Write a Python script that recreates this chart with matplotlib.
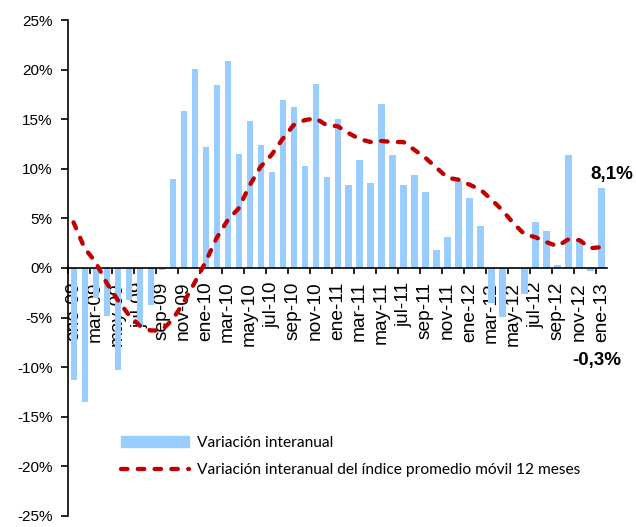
import numpy as np
import matplotlib
matplotlib.use("Agg")
import matplotlib.pyplot as plt
from matplotlib.patches import Patch
from matplotlib.lines import Line2D

# meses ene-09 .. ene-13
meses = ["ene", "feb", "mar", "abr", "may", "jun", "jul", "ago", "sep", "oct", "nov", "dic"]
etiquetas = [f"{meses[i % 12]}-{9 + i // 12:02d}" for i in range(49)]

# variacion interanual mensual (%)
var_interanual = [
    -11.3, -13.5, -3.0, -4.8, -10.3, -3.2, -6.0, -3.7, -0.2, 9.0, 15.8, 20.1,
    12.2, 18.4, 20.9, 11.5, 14.8, 12.4, 9.7, 16.9, 16.2, 10.3, 18.6, 9.2,
    15.0, 8.4, 10.9, 8.6, 16.5, 11.4, 8.4, 9.4, 7.7, 1.8, 3.1, 8.8,
    7.1, 4.2, -3.5, -4.9, -0.1, -2.6, 4.6, 3.7, 0.35, 11.4, 2.9, -0.3,
    8.1,
]

# variacion interanual del promedio movil 12 meses (%)
var_movil = [
    4.6, 2.0, 0.6, -1.5, -3.2, -4.7, -5.8, -6.3, -6.3, -5.2, -3.5, -1.5,
    0.6, 3.0, 4.8, 6.0, 8.3, 10.2, 11.4, 13.0, 14.4, 14.9, 15.1, 14.4,
    14.3, 13.6, 13.0, 12.7, 12.8, 12.7, 12.7, 11.9, 11.1, 10.1, 9.1, 8.9,
    8.4, 7.9, 6.9, 5.8, 4.5, 3.4, 3.1, 2.6, 2.2, 2.9, 2.8, 2.0,
    2.1,
]

x = np.arange(len(etiquetas))
rojo = "#C00000"
azul = "#99CCFF"
guiones = (0, (1.5, 2.4))

fig = plt.figure(figsize=(6.36, 5.27), dpi=100)
ax = fig.add_axes([0.107, 0.021, 0.8474, 0.941])

ax.bar(x, var_interanual, width=0.55, color=azul, zorder=2)
ax.plot(x, var_movil, color=rojo, lw=3.1, ls=guiones,
        dash_capstyle="round", zorder=3)

ax.set_xlim(-0.5, len(x) - 0.5)
ax.set_ylim(-25, 25)

# eje y
yt = np.arange(-25, 26, 5)
ax.set_yticks(yt)
ax.set_yticklabels([f"{v}%" for v in yt], fontfamily="Liberation Sans", fontsize=11)
ax.tick_params(axis="y", direction="out", length=5, width=1.2, pad=6)

# eje x sobre el cero
ax.spines["bottom"].set_position(("data", 0))
ax.spines["bottom"].set_linewidth(1.2)
ax.spines["left"].set_linewidth(1.2)
ax.spines["top"].set_visible(False)
ax.spines["right"].set_visible(False)
ax.set_xticks(x[::2])
ax.set_xticklabels(etiquetas[::2], rotation=90, fontfamily="Liberation Sans",
                   fontsize=13.8)
ax.tick_params(axis="x", length=0, pad=10)
ax.set_xticks(np.arange(-0.5, len(x), 2), minor=True)
ax.tick_params(axis="x", which="minor", direction="out", length=4, width=1.2)

# valores destacados
ax.text(48.95, 9.4, "8,1%", ha="center", va="center", fontsize=13.5,
        fontweight="bold", fontfamily="Liberation Sans")
ax.text(47.55, -9.3, "-0,3%", ha="center", va="center", fontsize=13.5,
        fontweight="bold", fontfamily="Liberation Sans")

handles = [Patch(color=azul),
           Line2D([0], [0], color=rojo, lw=3.1, ls=guiones,
                  dash_capstyle="round")]
ax.legend(handles, ["Variación interanual",
                    "Variación interanual del índice promedio móvil 12 meses"],
          loc="upper left", bbox_to_anchor=(0.072, 0.19), frameon=False,
          prop={"family": "Lato", "size": 11.2}, handlelength=4.4,
          handleheight=0.75, handletextpad=0.5, labelspacing=0.85)

fig.savefig("out.png", dpi=100)
